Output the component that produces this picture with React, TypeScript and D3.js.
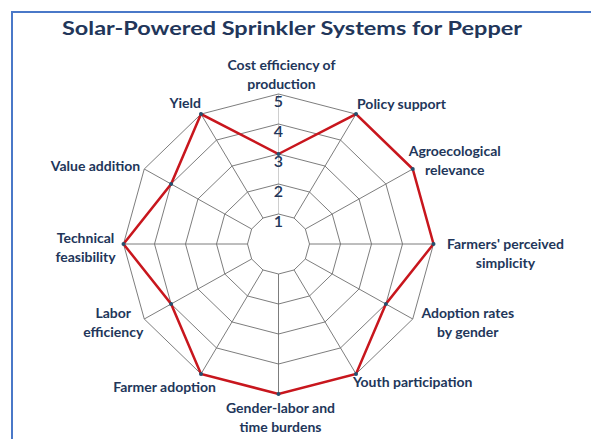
import { useEffect, useRef } from "react";
import * as d3 from "d3";

const categories = [
  "Cost efficiency of|production",
  "Policy support",
  "Agroecological|relevance",
  "Farmers' perceived|simplicity",
  "Adoption rates|by gender",
  "Youth participation",
  "Gender-labor and|time burdens",
  "Farmer adoption",
  "Labor|efficiency",
  "Technical|feasibility",
  "Value addition",
  "Yield",
];
const scores = [3, 5, 5, 5, 4, 5, 5, 5, 4, 5, 4, 5];
const levels = [1, 2, 3, 4, 5];

// label placement relative to outer vertex: [anchor, dx, dy of first line]
const labelLayout: [string, number, number][] = [
  ["middle", 3, -29],
  ["start", 1, -10],
  ["middle", 42, -18],
  ["middle", 72, 0],
  ["middle", 55, -6],
  ["start", -3, 8],
  ["middle", 2, 14],
  ["end", 15, 13],
  ["middle", -31, -6],
  ["middle", -38, -6],
  ["end", -4, -3],
  ["end", 0, -11],
];

const App = () => {
  const svgRef = useRef<SVGSVGElement>(null);

  useEffect(() => {
    const width = 591;
    const height = 439;
    const cx = 278.5;
    const cy = 244;
    const stretch = 155 / 150;
    const navy = "#22365a";

    const svg = d3.select(svgRef.current);
    svg.selectAll("*").remove();

    svg.append("rect").attr("width", width).attr("height", height).attr("fill", "#fff");

    // chart border
    svg.append("rect")
      .attr("x", 12)
      .attr("y", 12)
      .attr("width", width + 20)
      .attr("height", height + 20)
      .attr("fill", "none")
      .attr("stroke", "#4a78c8")
      .attr("stroke-width", 2);

    svg.append("text")
      .attr("x", 292)
      .attr("y", 35)
      .attr("text-anchor", "middle")
      .attr("font-family", "Lato, sans-serif")
      .attr("font-weight", "bold")
      .attr("font-size", 19)
      .attr("fill", navy)
      .attr("textLength", 460)
      .attr("lengthAdjust", "spacingAndGlyphs")
      .text("Solar-Powered Sprinkler Systems for Pepper");

    const r = d3.scaleLinear().domain([0, 5]).range([0, 150]);
    const angle = d3.scaleLinear().domain([0, categories.length]).range([0, 2 * Math.PI]);

    const pt = (i: number, v: number): [number, number] => {
      const a = angle(i);
      return [cx + r(v) * Math.sin(a) * stretch, cy - r(v) * Math.cos(a)];
    };

    const g = svg.append("g");
    const idx = d3.range(categories.length);

    // spokes
    g.selectAll("line.spoke")
      .data(idx)
      .enter()
      .append("line")
      .attr("x1", (i) => pt(i, levels[0])[0])
      .attr("y1", (i) => pt(i, levels[0])[1])
      .attr("x2", (i) => pt(i, 5)[0])
      .attr("y2", (i) => pt(i, 5)[1])
      .attr("stroke", (i) => (i === 0 ? "#c8c8c8" : "#6e6e6e"))
      .attr("stroke-width", 0.9);

    // rings
    const line = d3.line<number>();
    g.selectAll("path.ring")
      .data(levels)
      .enter()
      .append("path")
      .attr("d", (lv) => line(idx.map((i) => pt(i, lv))) + "Z")
      .attr("fill", "none")
      .attr("stroke", "#6e6e6e")
      .attr("stroke-width", 0.9);

    // level labels
    g.selectAll("text.level")
      .data(levels)
      .enter()
      .append("text")
      .attr("x", cx)
      .attr("y", (lv) => cy - r(lv) + 13)
      .attr("text-anchor", "middle")
      .attr("font-family", "Lato, sans-serif")
      .attr("font-weight", 600)
      .attr("font-size", 16)
      .attr("fill", navy)
      .text((lv) => lv);

    // data
    g.append("path")
      .attr("d", line(scores.map((v, i) => pt(i, v))) + "Z")
      .attr("fill", "none")
      .attr("stroke", "#c8161d")
      .attr("stroke-width", 2.5)
      .attr("stroke-linejoin", "miter");

    g.selectAll("circle.pt")
      .data(scores)
      .enter()
      .append("circle")
      .attr("cx", (v, i) => pt(i, v)[0])
      .attr("cy", (v, i) => pt(i, v)[1])
      .attr("r", 2)
      .attr("fill", "#24506e");

    // category labels
    categories.forEach((c, i) => {
      const [anchor, dx, dy] = labelLayout[i];
      const [vx, vy] = pt(i, 5);
      const t = g.append("text")
        .attr("text-anchor", anchor)
        .attr("font-family", "Lato, sans-serif")
        .attr("font-weight", "bold")
        .attr("font-size", 14)
        .attr("fill", navy);
      c.split("|").forEach((ln, k) => {
        t.append("tspan")
          .attr("x", vx + dx)
          .attr("y", vy + dy + k * 19)
          .attr("dy", "0.35em")
          .text(ln);
      });
    });
  }, []);

  return (
    <svg
      ref={svgRef}
      width={591}
      height={439}
      style={{ position: "absolute", left: 0, top: 0, display: "block" }}
    ></svg>
  );
};

export default App;
